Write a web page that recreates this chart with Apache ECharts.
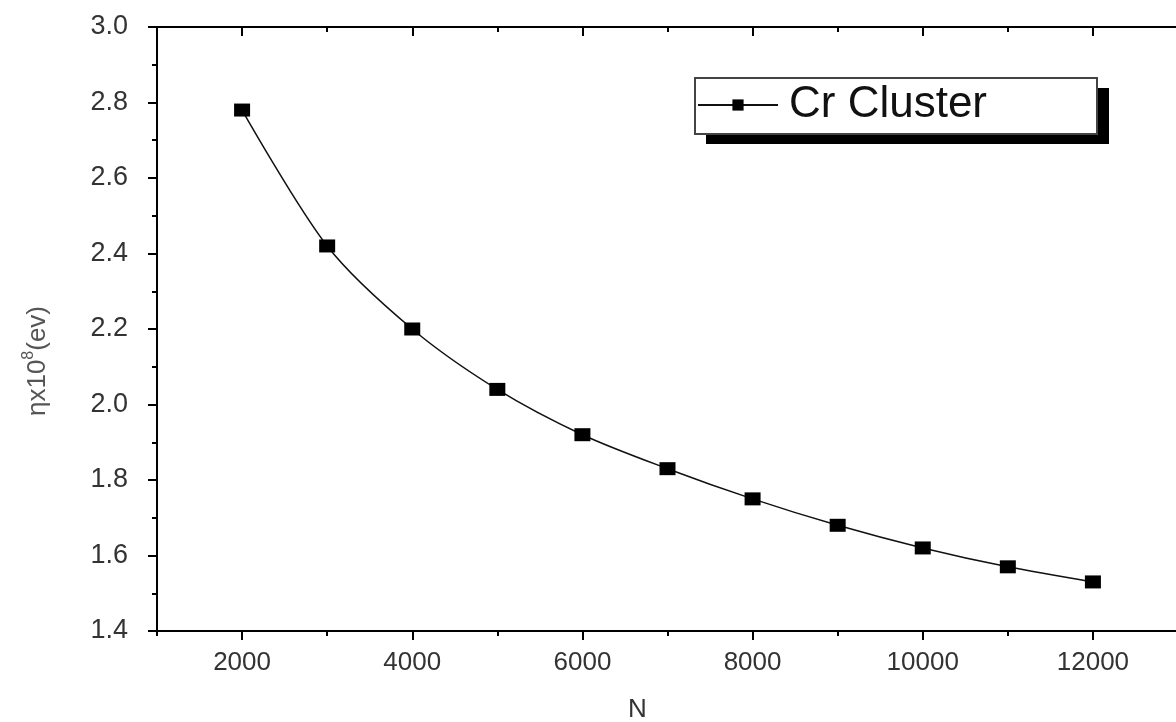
<!DOCTYPE html>
<html>
<head>
<meta charset="utf-8">
<script src="https://cdn.jsdelivr.net/npm/echarts@6/dist/echarts.min.js"></script>
<style>
html, body { margin: 0; padding: 0; background: #fff; }
#main { width: 1176px; height: 722px; }
</style>
</head>
<body>
<div id="main"></div>
<script>
// 数据
var nValues = [2000, 3000, 4000, 5000, 6000, 7000, 8000, 9000, 10000, 11000, 12000];
var etaValues = [2.78, 2.42, 2.20, 2.04, 1.92, 1.83, 1.75, 1.68, 1.62, 1.57, 1.53];
var xTicks = [2000, 4000, 6000, 8000, 10000, 12000];
var seriesName = 'Cr Cluster';

var points = [];
for (var i = 0; i < nValues.length; i++) {
	points.push([nValues[i], etaValues[i]]);
}

var myChart = echarts.init(document.getElementById('main'));

myChart.setOption({
	animation: false,
	grid: { left: 157, top: 27, right: -2, bottom: 91, outerBoundsMode: 'none', containLabel: false },
	// 图例的阴影框
	graphic: [ {
		type: 'rect', z: 0, silent: true,
		shape: { x: 706, y: 88, width: 403, height: 56 },
		style: { fill: '#000' }
	}, {
		type: 'rect', z: 1, silent: true,
		shape: { x: 695, y: 78, width: 402, height: 56 },
		style: { fill: '#fff', stroke: '#444', lineWidth: 2 }
	} ],
	legend: {
		data: [seriesName],
		left: 695,
		top: 80,
		z: 10,
		orient: 'horizontal',
		itemWidth: 80,
		itemHeight: 14,
		itemGap: 10,
		padding: [3, 10, 3, 2],
		textStyle: { fontFamily: 'Arial', fontSize: 44, color: '#111', padding: [0, 0, 0, 6] }
	},
	xAxis: [ {
		type: 'value',
		min: 1000,
		max: 13000,
		name: 'N',
		nameLocation: 'middle',
		nameGap: 66,
		nameTextStyle: { fontFamily: 'Arial', fontSize: 26, color: '#333', padding: [0, 60, 0, 0] },
		axisLine: { lineStyle: { color: '#000', width: 2 } },
		axisTick: { show: true, customValues: xTicks, length: 9, inside: false, lineStyle: { color: '#000', width: 2 } },
		axisLabel: {
			customValues: xTicks, margin: 19, fontFamily: 'Arial', fontSize: 26, color: '#333',
			formatter: function(v) { return String(v); }
		},
		splitLine: { show: false }
	}, {
		// 小刻度
		type: 'value',
		min: 1000,
		max: 13000,
		interval: 1000,
		position: 'bottom',
		axisLine: { show: false },
		axisTick: { length: 5, lineStyle: { color: '#000', width: 2 } },
		axisLabel: { show: false },
		splitLine: { show: false }
	}, {
		// 顶部坐标轴
		type: 'value',
		min: 1000,
		max: 13000,
		interval: 1000,
		position: 'top',
		axisLine: { lineStyle: { color: '#000', width: 2 } },
		axisTick: { inside: true, length: 5, lineStyle: { color: '#000', width: 2 } },
		axisLabel: { show: false },
		splitLine: { show: false }
	}, {
		type: 'value',
		min: 1000,
		max: 13000,
		position: 'top',
		axisLine: { show: false },
		axisTick: { inside: true, customValues: xTicks, length: 9, lineStyle: { color: '#000', width: 2 } },
		axisLabel: { show: false },
		splitLine: { show: false }
	} ],
	yAxis: {
		type: 'value',
		min: 1.4,
		max: 3.0,
		interval: 0.2,
		name: '{a|ηx10}{s|8}{a|(ev)}',
		nameLocation: 'middle',
		nameGap: 106,
		nameTextStyle: {
			padding: [0, 64, 0, 0],
			rich: {
				a: { fontFamily: 'Arial', fontSize: 26, color: '#555', lineHeight: 30, verticalAlign: 'bottom' },
				s: { fontFamily: 'Arial', fontSize: 16, color: '#555', lineHeight: 30, verticalAlign: 'top' }
			}
		},
		axisLine: { show: true, lineStyle: { color: '#000', width: 2 } },
		axisTick: { show: true, length: 9, lineStyle: { color: '#000', width: 2 } },
		minorTick: { show: true, splitNumber: 2, length: 5, lineStyle: { color: '#000', width: 2 } },
		axisLabel: {
			margin: 29,
			fontFamily: 'Arial', fontSize: 27, color: '#333',
			formatter: function(v) { return v.toFixed(1); }
		},
		splitLine: { show: false }
	},
	series: [ {
		name: seriesName,
		type: 'line',
		data: points,
		smooth: 0.3,
		symbol: 'rect',
		symbolSize: [16, 13],
		itemStyle: { color: '#000' },
		lineStyle: { color: '#111', width: 1.5 }
	} ]
});
</script>
</body>
</html>
